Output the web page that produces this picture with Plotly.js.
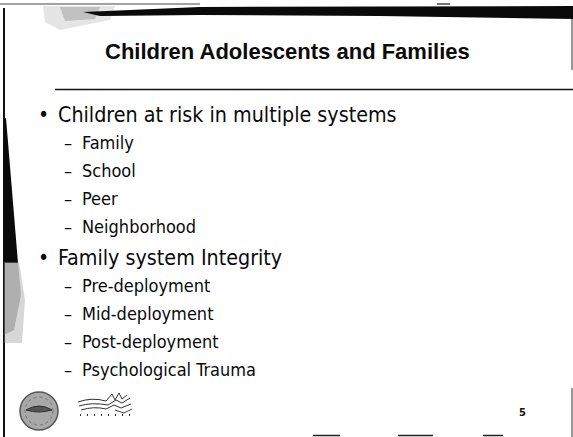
<!DOCTYPE html>
<html><head><meta charset="utf-8">
<script src="https://cdn.plot.ly/plotly-3.0.1.min.js"></script>
<style>html,body{margin:0;padding:0;background:#fff;}#g{width:573px;height:437px;}</style>
</head><body><div id="g"></div>
<script>
const slideTitle = "Children Adolescents and Families";
const mainBullets = ["Children at risk in multiple systems", "Family system Integrity"];
const subBullets1 = ["Family", "School", "Peer", "Neighborhood"];
const subBullets2 = ["Pre-deployment", "Mid-deployment", "Post-deployment", "Psychological Trauma"];
const pageNumber = "5";

const W = 573, H = 437;
const ann = [];
const FONT = "DejaVu Sans Condensed, DejaVu Sans, sans-serif";
ann.push({x: 287, y: 51, text: "<b>" + slideTitle + "</b>", showarrow: false, xanchor: "center", yanchor: "middle",
  font: {family: "Liberation Sans, Arial, sans-serif", size: 22, color: "#0a0a0a"}});

const mainY = [114, 257];
const subStart = [142, 285];
const subStep = 28.3;
[subBullets1, subBullets2].forEach((list, i) => {
  ann.push({x: 43, y: mainY[i] + 1, text: "•", showarrow: false, xanchor: "center", yanchor: "middle",
    font: {family: FONT, size: 21, color: "#0a0a0a"}});
  ann.push({x: 56, y: mainY[i], text: mainBullets[i], showarrow: false, xanchor: "left", yanchor: "middle",
    font: {family: FONT, size: 21.3, color: "#0a0a0a"}});
  list.forEach((s, j) => {
    ann.push({x: 62, y: subStart[i] + j * subStep, text: "–", showarrow: false, xanchor: "left", yanchor: "middle",
      font: {family: FONT, size: 18, color: "#0a0a0a"}});
    ann.push({x: 80, y: subStart[i] + j * subStep, text: s, showarrow: false, xanchor: "left", yanchor: "middle",
      font: {family: FONT, size: 18, color: "#0a0a0a"}});
  });
});
ann.push({x: 522, y: 412, text: "<b>" + pageNumber + "</b>", showarrow: false, xanchor: "center", yanchor: "middle",
  font: {family: FONT, size: 11, color: "#111"}});

const shapes = [];
// borders
shapes.push({type: "line", x0: 4, x1: 4, y0: 8, y1: 437, line: {color: "#111", width: 2}});
shapes.push({type: "line", x0: 0, x1: 200, y0: 4, y1: 4, line: {color: "#444", width: 1}});
shapes.push({type: "line", x0: 437, x1: 450, y0: 4, y1: 4, line: {color: "#444", width: 1.5}});
shapes.push({type: "line", x0: 572, x1: 572, y0: 8, y1: 70, line: {color: "#333", width: 1}});
shapes.push({type: "line", x0: 572, x1: 572, y0: 388, y1: 437, line: {color: "#333", width: 1}});
// top-left dither
shapes.push({type: "path", path: "M 43 6 L 115 6 L 110 20 L 60 30 L 45 22 Z", fillcolor: "rgba(150,150,150,0.25)", line: {width: 0}});
shapes.push({type: "path", path: "M 60 7 L 100 7 L 95 19 L 65 21 Z", fillcolor: "rgba(110,110,110,0.3)", line: {width: 0}});
// top black band
shapes.push({type: "path", path: "M 83 12 L 200 7 L 573 6 L 573 19 L 380 16 L 200 15 L 100 16 Z", fillcolor: "#0a0a0a", line: {width: 0}});
// under-title rule
shapes.push({type: "line", x0: 55, x1: 573, y0: 89.5, y1: 89.5, line: {color: "#111", width: 1.3}});
// left wedge
shapes.push({type: "path", path: "M 4 118 L 6 118 L 18 263 L 4 263 Z", fillcolor: "#0a0a0a", line: {width: 0}});
shapes.push({type: "path", path: "M 4 262 L 19 262 L 25 300 L 22 343 L 4 343 Z", fillcolor: "rgba(140,140,140,0.35)", line: {width: 0}});
shapes.push({type: "path", path: "M 4 262 L 18 262 L 21 295 L 14 330 L 4 335 Z", fillcolor: "rgba(100,100,100,0.35)", line: {width: 0}});
// seal
shapes.push({type: "circle", x0: 20, x1: 58, y0: 392, y1: 430, fillcolor: "#a8a8a8", line: {color: "#555", width: 1.5}});
shapes.push({type: "circle", x0: 25, x1: 53, y0: 397, y1: 425, fillcolor: "rgba(0,0,0,0)", line: {color: "#777", width: 1, dash: "dot"}});
shapes.push({type: "path", path: "M 26 410 Q 39 402 52 410 Q 39 414 26 410 Z", fillcolor: "#555", line: {color: "#333", width: 1}});
// wave logo
shapes.push({type: "path", path: "M 78 402 Q 92 397 106 401 L 112 394 L 115 400 L 119 393 L 122 399 L 127 395", line: {color: "#333", width: 1}});
shapes.push({type: "path", path: "M 79 406 Q 92 402 108 405 L 116 400 L 122 403 L 130 398", line: {color: "#333", width: 1}});
shapes.push({type: "path", path: "M 81 410 Q 94 406 106 409 L 114 405 L 121 408 L 131 404", line: {color: "#333", width: 1}});
shapes.push({type: "path", path: "M 115 410 L 124 413 L 132 409", line: {color: "#444", width: 1}});
// tiny dotted letters under the wave logo
shapes.push({type: "line", x0: 80, x1: 134, y0: 415, y1: 415, line: {color: "#333", width: 2, dash: "1px,6px"}});
// bottom marks
[[313, 340], [398, 433], [483, 503]].forEach(p => shapes.push({type: "line", x0: p[0], x1: p[1], y0: 435.5, y1: 435.5, line: {color: "#222", width: 1.5}}));

const layout = {
  width: W, height: H, margin: {l: 0, r: 0, t: 0, b: 0},
  paper_bgcolor: "#fff", plot_bgcolor: "#fff", showlegend: false,
  xaxis: {range: [0, W], visible: false, fixedrange: true},
  yaxis: {range: [H, 0], visible: false, fixedrange: true},
  annotations: ann, shapes: shapes
};
Plotly.newPlot("g", [], layout, {staticPlot: true});
</script></body></html>
